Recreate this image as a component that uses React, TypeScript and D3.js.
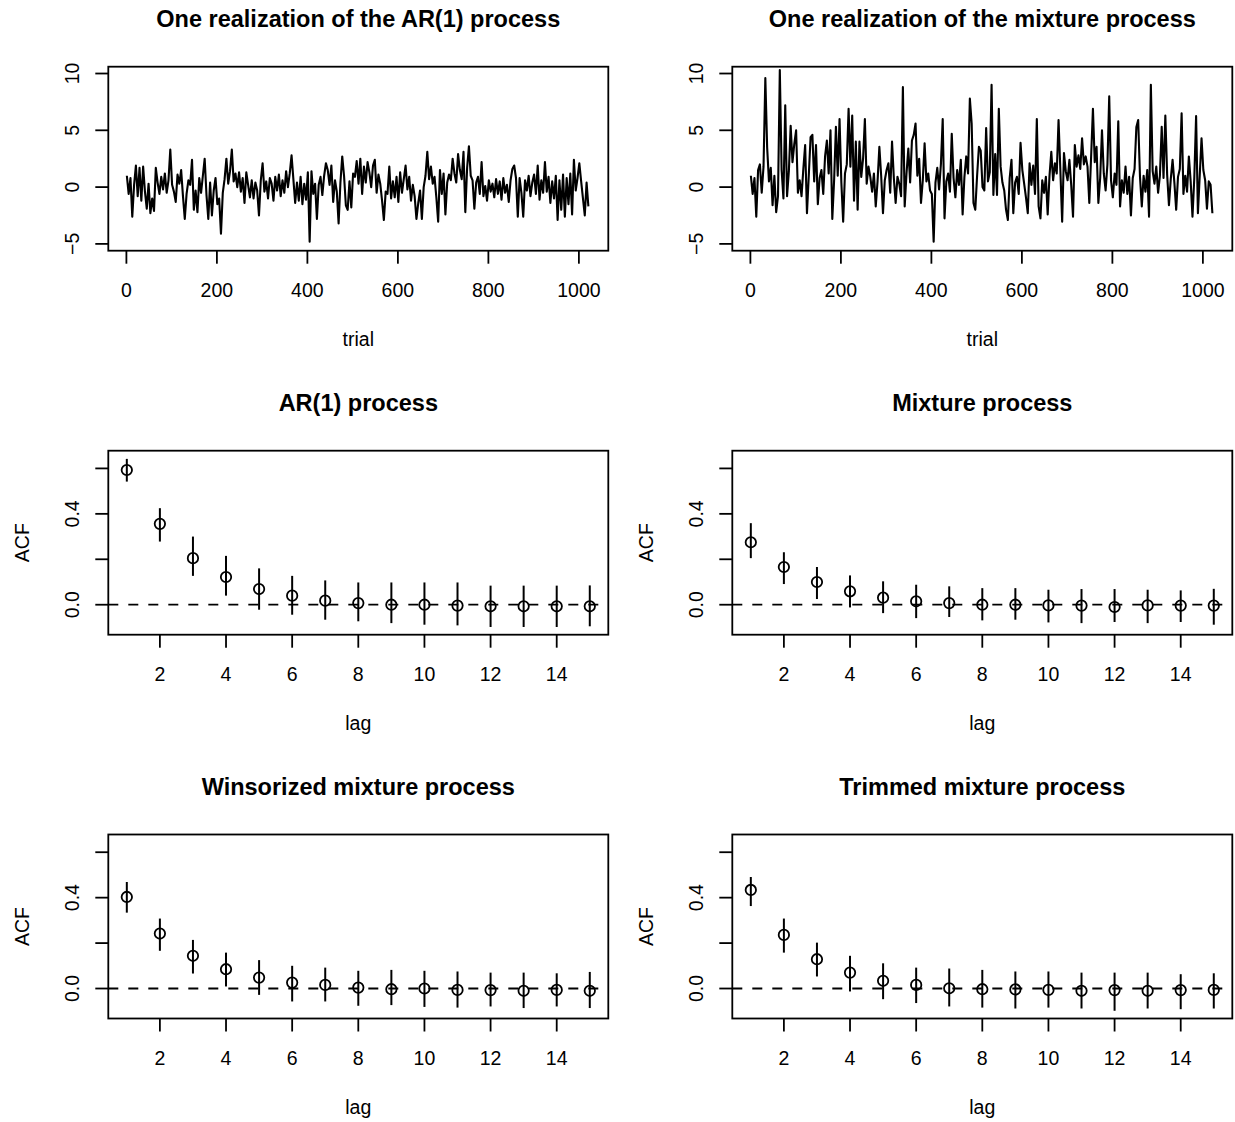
import React from 'react';
import * as d3 from 'd3';

// ---------- data ----------
// time series sampled every 4 trials starting at trial 1
const trialStart = 1;
const trialStep = 4;

const arSeries = [
  1.0, -0.6, 0.8, -2.6, 0.2, 1.9, -0.8, 1.7, -1.2, 1.8, -0.4, -1.9, 0.3, -2.3, -1.0, -2.1,
  1.7, 0.4, -0.6, 0.9, -0.2, 1.2, -0.5, 0.6, 3.3, 0.2, -0.4, -1.3, 1.1, 0.3, 1.5, -0.8,
  -2.8, -0.6, 0.6, 0.2, 2.4, -2.0, -0.3, -2.2, 0.8, -0.5, 1.0, 2.5, -0.7, -2.8, 0.4, -2.5,
  -0.3, 0.8, -1.5, -1.0, -4.1, -0.5, 0.7, 2.5, 0.3, 1.4, 3.3, 0.5, 1.2, 0.0, 1.3, -0.4,
  0.8, -1.4, 1.3, 0.2, -0.9, 0.6, -1.0, 0.4, -0.3, -2.5, 0.6, 2.1, -0.4, 0.5, -1.0, 0.8,
  0.3, -1.2, 0.9, -0.3, 1.1, -0.8, 0.6, -0.5, 1.4, 0.0, 1.2, 2.8, 0.7, -1.4, 0.4, -1.2,
  0.9, -1.5, 0.3, -1.1, 1.3, -4.8, 1.4, -0.6, 0.3, -2.8, 0.2, 0.9, -0.7, 1.0, 2.1, 1.5,
  0.2, 1.9, -1.3, 0.6, -0.4, -3.2, 0.4, 2.7, 1.0, -1.6, -2.0, 0.5, -1.8, 1.2, 0.9, 2.3,
  0.3, 2.5, -0.6, 1.8, 0.4, 2.2, 1.3, 0.0, 1.9, 2.4, -0.5, 1.1, 0.3, -1.2, -2.9, -0.4,
  -0.6, 1.8, -1.0, 0.5, -0.9, 0.9, -1.3, 1.3, -0.5, 0.7, 1.9, -0.2, 0.9, -1.2, 0.2, -0.8,
  -2.8, -1.4, -0.3, -2.8, 0.0, 1.0, 3.1, 0.7, 1.8, 0.3, 0.9, -0.9, -3.05, 1.5, -0.6, 1.2,
  -2.4, 0.4, 1.1, 0.6, 2.5, 1.2, 0.4, 2.9, 1.5, 0.7, 3.1, -2.2, 1.7, 3.6, 1.0, 0.6,
  -1.9, 0.4, 0.9, -0.6, 2.2, -0.8, 0.1, -1.2, 0.6, -0.4, 0.3, -0.9, 0.7, -0.6, 0.5, -1.1,
  0.8, -0.5, 0.2, -1.3, 0.6, 1.6, 1.9, 0.8, -2.6, 0.8, -0.5, -2.6, 0.6, -0.3, 1.0, -0.8,
  0.4, 1.1, -0.6, 1.9, -1.1, 0.6, -0.5, 2.2, -0.4, 0.9, -1.4, 0.5, -1.0, 1.0, -2.9, 0.6,
  -2.0, 1.1, -2.6, 0.8, -1.5, 1.2, -2.4, 2.4, -0.3, 0.8, 2.1, 0.5, -1.0, -2.5, 0.4, -1.7,
];

const mixSeries = [
  1.0, -0.6, 0.8, -2.6, 1.5, 2.0, -0.5, 1.8, 9.6, 3.5, 0.5, 1.7, -1.6, 1.0, -2.2, -0.8,
  10.3, 1.5, -1.0, 7.2, -0.8, 1.4, 5.4, 2.2, 3.8, 5.0, -0.5, 0.6, -0.8, 1.6, 3.7, -2.3,
  1.0, 4.4, 4.6, 0.5, 3.7, -1.5, 0.8, 1.5, -0.6, 2.7, 4.1, 1.2, 5.0, -2.8, 0.6, 5.3,
  1.0, 6.0, 0.4, -3.05, 1.2, 2.0, 6.9, 1.8, 6.3, -1.2, 4.0, -2.0, 4.0, 0.9, 2.5, 6.0,
  0.3, 1.8, 0.9, -0.4, 1.2, -1.7, 0.5, 3.55, 1.0, -2.3, 0.6, 1.5, 2.1, -0.5, 4.0, 0.8,
  -1.4, 0.9, 0.3, -0.8, 8.8, -1.7, 1.2, 3.4, 0.4, 4.1, 4.6, 5.6, 1.0, 2.5, -1.4, 0.6,
  3.85, 0.5, 1.2, -0.3, -0.6, -4.8, 0.4, 1.7, -0.2, 2.0, 6.0, -2.75, 0.5, 1.2, -0.4, 4.7,
  0.8, -0.9, 1.5, 0.2, 2.4, -2.4, 0.9, 2.7, 1.2, 7.8, 5.6, -1.4, -2.0, 1.0, 3.55, 3.2,
  0.0, -0.3, 5.2, 0.5, 1.3, 9.0, -0.7, 2.9, -0.7, 6.9, 1.8, 0.4, -0.3, -2.0, -2.9, 0.8,
  2.4, -2.3, 0.4, 0.9, -0.6, 3.9, 1.5, 0.3, -0.9, -2.3, 2.1, 0.2, 1.9, -0.6, 6.0, -1.7,
  -2.75, 0.6, -0.5, 0.9, -2.4, 1.0, 3.1, 0.6, 2.1, 1.2, 5.9, 1.5, -3.05, 3.0, 1.4, 0.6,
  2.4, 0.2, -2.6, 3.7, 1.8, 2.8, 1.6, 4.3, 2.0, 2.7, 1.8, -1.4, 2.7, 6.9, 2.2, 3.55,
  -1.4, 0.8, 5.0, 1.2, -0.3, 2.0, 8.0, 0.6, -0.9, 1.2, 0.2, 5.8, -1.7, 0.6, -0.5, 1.8,
  -0.6, 0.9, -2.5, 0.8, 1.6, 5.3, 5.9, 0.9, -1.7, 1.0, -0.4, 1.5, -2.6, 9.0, 1.4, 0.3,
  1.8, -0.5, 1.0, 5.3, 0.8, 6.3, 1.1, -1.6, 0.7, 2.4, 0.4, -2.0, 0.9, 1.6, 6.5, -0.6,
  1.0, -0.4, 2.7, 0.5, -2.6, 0.8, 6.25, -2.3, 1.0, 4.3, 1.5, 0.6, -1.9, 0.5, 0.2, -2.3,
];

const lags = [1, 2, 3, 4, 5, 6, 7, 8, 9, 10, 11, 12, 13, 14, 15];

const acfAR = [0.593, 0.356, 0.205, 0.122, 0.069, 0.04, 0.018, 0.007, 0.0, 0.0, -0.004, -0.007, -0.007, -0.007, -0.007];
const acfARLo = [0.542, 0.278, 0.127, 0.04, -0.022, -0.044, -0.066, -0.073, -0.081, -0.088, -0.091, -0.098, -0.098, -0.098, -0.095];
const acfARHi = [0.642, 0.425, 0.3, 0.215, 0.16, 0.127, 0.107, 0.098, 0.098, 0.098, 0.098, 0.084, 0.084, 0.084, 0.085];

const acfMix = [0.275, 0.166, 0.1, 0.059, 0.031, 0.015, 0.007, 0.0, 0.0, -0.003, -0.004, -0.01, -0.003, -0.004, -0.004];
const acfMixLo = [0.205, 0.091, 0.025, -0.012, -0.037, -0.059, -0.054, -0.069, -0.066, -0.078, -0.081, -0.076, -0.081, -0.076, -0.088];
const acfMixHi = [0.359, 0.231, 0.166, 0.129, 0.103, 0.088, 0.081, 0.073, 0.073, 0.066, 0.069, 0.069, 0.066, 0.063, 0.07];

const acfWin = [0.403, 0.242, 0.144, 0.085, 0.048, 0.026, 0.016, 0.004, -0.003, 0.0, -0.006, -0.007, -0.01, -0.006, -0.01];
const acfWinLo = [0.334, 0.166, 0.066, 0.009, -0.028, -0.057, -0.057, -0.076, -0.073, -0.081, -0.084, -0.079, -0.086, -0.079, -0.086];
const acfWinHi = [0.469, 0.308, 0.214, 0.158, 0.125, 0.1, 0.092, 0.078, 0.082, 0.078, 0.075, 0.07, 0.07, 0.067, 0.073];

const acfTrim = [0.434, 0.236, 0.129, 0.07, 0.034, 0.016, 0.001, -0.003, -0.004, -0.006, -0.01, -0.007, -0.01, -0.007, -0.006];
const acfTrimLo = [0.363, 0.158, 0.053, -0.013, -0.047, -0.064, -0.079, -0.084, -0.088, -0.084, -0.088, -0.098, -0.088, -0.091, -0.088];
const acfTrimHi = [0.491, 0.308, 0.202, 0.144, 0.111, 0.092, 0.088, 0.082, 0.075, 0.075, 0.07, 0.07, 0.07, 0.063, 0.067];

const tsXTicks = [0, 200, 400, 600, 800, 1000];
const tsYTicks = [-5, 0, 5, 10];
const tsYTickLabels = ['\u22125', '0', '5', '10'];
const acfXTicks = [2, 4, 6, 8, 10, 12, 14];
const acfYTicks = [0, 0.2, 0.4, 0.6];
const acfYTickLabels = ['0.0', '', '0.4', ''];

// ---------- layout ----------
const W = 1235;
const H = 1122;
const colLeft = [108.3, 732.3];
const rowTop = [66.7, 450.7, 834.5];
const PW = 500;
const PH = 184;
const FONT = '"Liberation Sans", Arial, Helvetica, sans-serif';
const tickFs = 19.5;
const titleFs = 23.5;
const lw = 1.8;

function Frame({ left, top, title, xlab, ylab, xTicks, xScale, yTicks, yLabels, yScale }: any) {
  const bottom = top + PH;
  return (
    <g>
      <rect x={left} y={top} width={PW} height={PH} fill="none" stroke="#000" strokeWidth={lw} />
      <text x={left + PW / 2} y={top - 39.5} textAnchor="middle" fontFamily={FONT} fontWeight="bold" fontSize={titleFs}>{title}</text>
      {xTicks.map((t: number) => (
        <g key={'x' + t}>
          <line x1={xScale(t)} x2={xScale(t)} y1={bottom} y2={bottom + 13} stroke="#000" strokeWidth={lw} />
          <text x={xScale(t)} y={bottom + 46} textAnchor="middle" fontFamily={FONT} fontSize={tickFs}>{String(t)}</text>
        </g>
      ))}
      {yTicks.map((t: number, i: number) => (
        <g key={'y' + t}>
          <line x1={left - 13} x2={left} y1={yScale(t)} y2={yScale(t)} stroke="#000" strokeWidth={lw} />
          {yLabels[i] ? (
            <text transform={`translate(${left - 29.3},${yScale(t)}) rotate(-90)`} textAnchor="middle" fontFamily={FONT} fontSize={tickFs}>{yLabels[i]}</text>
          ) : null}
        </g>
      ))}
      <text x={left + PW / 2} y={bottom + 95} textAnchor="middle" fontFamily={FONT} fontSize={tickFs}>{xlab}</text>
      {ylab ? (
        <text transform={`translate(${left - 79},${top + PH / 2}) rotate(-90)`} textAnchor="middle" fontFamily={FONT} fontSize={tickFs}>{ylab}</text>
      ) : null}
    </g>
  );
}

function TSPanel({ left, top, title, values }: { left: number; top: number; title: string; values: number[] }) {
  const x = d3.scaleLinear().domain([-40, 1065]).range([left, left + PW]);
  const y = d3.scaleLinear().domain([-5.6, 10.6]).range([top + PH, top]);
  const line = d3.line<number>().x((_, i) => x(trialStart + i * trialStep)).y((d) => y(d));
  return (
    <g>
      <path d={line(values) || ''} fill="none" stroke="#000" strokeWidth={2.1} strokeLinejoin="round" />
      <Frame left={left} top={top} title={title} xlab="trial" ylab="" xTicks={tsXTicks} xScale={x} yTicks={tsYTicks} yLabels={tsYTickLabels} yScale={y} />
    </g>
  );
}

function ACFPanel({ left, top, title, est, lo, hi }: { left: number; top: number; title: string; est: number[]; lo: number[]; hi: number[] }) {
  const x = d3.scaleLinear().domain([0.44, 15.56]).range([left, left + PW]);
  const y = d3.scaleLinear().domain([-0.132, 0.678]).range([top + PH, top]);
  return (
    <g>
      <line x1={left} x2={left + PW} y1={y(0)} y2={y(0)} stroke="#000" strokeWidth={lw} strokeDasharray="10,10" />
      {lags.map((l, i) => (
        <g key={l}>
          <line x1={x(l)} x2={x(l)} y1={y(lo[i])} y2={y(hi[i])} stroke="#000" strokeWidth={2} />
          <circle cx={x(l)} cy={y(est[i])} r={5.2} fill="none" stroke="#000" strokeWidth={lw} />
        </g>
      ))}
      <Frame left={left} top={top} title={title} xlab="lag" ylab="ACF" xTicks={acfXTicks} xScale={x} yTicks={acfYTicks} yLabels={acfYTickLabels} yScale={y} />
    </g>
  );
}

export default function App() {
  return (
    <svg width={W} height={H} viewBox={`0 0 ${W} ${H}`} style={{ position: 'absolute', left: 0, top: 0, background: '#fff' }}>
      <rect x={0} y={0} width={W} height={H} fill="#fff" />
      <TSPanel left={colLeft[0]} top={rowTop[0]} title="One realization of the AR(1) process" values={arSeries} />
      <TSPanel left={colLeft[1]} top={rowTop[0]} title="One realization of the mixture process" values={mixSeries} />
      <ACFPanel left={colLeft[0]} top={rowTop[1]} title="AR(1) process" est={acfAR} lo={acfARLo} hi={acfARHi} />
      <ACFPanel left={colLeft[1]} top={rowTop[1]} title="Mixture process" est={acfMix} lo={acfMixLo} hi={acfMixHi} />
      <ACFPanel left={colLeft[0]} top={rowTop[2]} title="Winsorized mixture process" est={acfWin} lo={acfWinLo} hi={acfWinHi} />
      <ACFPanel left={colLeft[1]} top={rowTop[2]} title="Trimmed mixture process" est={acfTrim} lo={acfTrimLo} hi={acfTrimHi} />
    </svg>
  );
}
